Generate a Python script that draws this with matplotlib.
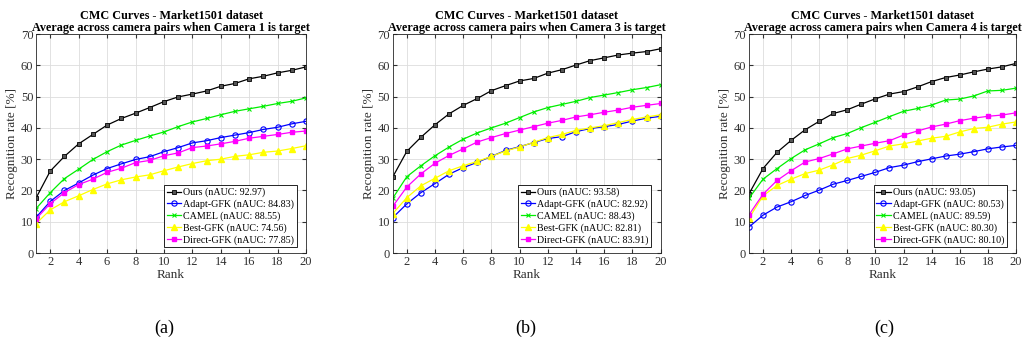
import numpy as np
import matplotlib
matplotlib.use("Agg")
import matplotlib.pyplot as plt

plt.rcParams['font.family'] = ['Liberation Serif', 'DejaVu Serif']

ranks = np.arange(1, 21)

# camera 1 as target
ours_c1 = [17.6, 26.2, 30.9, 34.9, 37.9, 40.9, 43.0, 44.7, 46.5, 48.4,
           49.9, 50.8, 51.8, 53.3, 54.2, 55.7, 56.5, 57.6, 58.4, 59.5]
adapt_c1 = [11.4, 16.5, 20.0, 22.4, 24.9, 27.0, 28.5, 29.9, 30.8, 32.4,
            33.7, 35.2, 35.9, 36.9, 37.7, 38.5, 39.5, 40.2, 41.3, 42.1]
camel_c1 = [14.2, 19.3, 23.8, 26.8, 29.9, 32.4, 34.5, 36.0, 37.4, 38.7,
            40.4, 41.9, 43.0, 44.2, 45.3, 46.1, 46.9, 47.8, 48.5, 49.6]
best_c1 = [9.4, 13.8, 16.4, 18.3, 20.3, 22.1, 23.4, 24.3, 25.0, 26.3,
           27.5, 28.6, 29.5, 30.0, 30.9, 31.4, 32.2, 32.6, 33.4, 34.3]
direct_c1 = [10.9, 15.8, 19.3, 21.9, 23.6, 25.8, 27.1, 28.9, 29.6, 31.1,
             32.0, 33.7, 34.2, 34.9, 35.7, 36.7, 37.3, 37.9, 38.6, 39.0]
nauc_c1 = [92.97, 84.83, 88.55, 74.56, 77.85]

# camera 3 as target
ours_c3 = [24.3, 32.5, 37.0, 41.0, 44.5, 47.2, 49.4, 51.9, 53.5, 55.0,
           55.8, 57.5, 58.6, 60.1, 61.5, 62.4, 63.3, 63.9, 64.4, 65.3]
adapt_c3 = [11.3, 15.7, 19.3, 22.2, 25.2, 27.3, 29.0, 30.9, 32.8, 34.0,
            35.3, 36.6, 37.2, 38.8, 39.8, 40.4, 41.1, 42.2, 43.1, 43.7]
camel_c3 = [17.5, 24.4, 27.9, 31.1, 33.9, 36.4, 38.4, 40.0, 41.5, 43.3,
            45.1, 46.5, 47.5, 48.5, 49.7, 50.5, 51.3, 52.2, 52.9, 53.8]
best_c3 = [12.6, 17.7, 21.5, 23.9, 26.3, 27.9, 29.3, 30.9, 32.6, 33.9,
           35.4, 36.9, 37.9, 39.2, 40.0, 40.7, 41.7, 42.7, 43.5, 44.2]
direct_c3 = [14.9, 21.1, 25.3, 28.7, 31.2, 33.3, 35.5, 36.9, 38.2, 39.3,
             40.4, 41.5, 42.4, 43.5, 44.2, 45.0, 45.7, 46.6, 47.2, 47.8]
nauc_c3 = [93.58, 82.92, 88.43, 82.81, 83.91]

# camera 4 as target
ours_c4 = [18.9, 27.0, 32.2, 36.0, 39.4, 42.1, 44.6, 45.8, 47.6, 49.3,
           50.8, 51.6, 53.1, 54.8, 56.1, 56.9, 57.9, 58.8, 59.5, 60.6]
adapt_c4 = [8.3, 12.1, 14.7, 16.4, 18.4, 20.1, 22.0, 23.2, 24.5, 25.8,
            27.3, 28.1, 29.2, 30.1, 31.0, 31.6, 32.4, 33.3, 33.9, 34.4]
camel_c4 = [17.5, 23.6, 27.0, 30.2, 33.0, 34.9, 36.9, 38.2, 40.1, 41.8,
            43.6, 45.3, 46.2, 47.3, 48.9, 49.2, 50.2, 51.8, 52.0, 52.7]
best_c4 = [11.1, 18.3, 21.6, 23.6, 25.4, 26.5, 28.2, 30.2, 31.3, 32.7,
           34.2, 34.9, 35.8, 36.7, 37.3, 38.7, 39.8, 40.2, 41.2, 41.9]
direct_c4 = [12.2, 18.8, 23.2, 26.3, 29.1, 30.2, 31.7, 33.3, 34.2, 35.1,
             35.9, 37.7, 39.0, 40.3, 41.2, 42.3, 43.1, 43.7, 44.1, 44.8]
nauc_c4 = [93.05, 80.53, 89.59, 80.30, 80.10]

methods = ['Ours', 'Adapt-GFK', 'CAMEL', 'Best-GFK', 'Direct-GFK']
panels = [
    ('1', [ours_c1, adapt_c1, camel_c1, best_c1, direct_c1], nauc_c1, '(a)'),
    ('3', [ours_c3, adapt_c3, camel_c3, best_c3, direct_c3], nauc_c3, '(b)'),
    ('4', [ours_c4, adapt_c4, camel_c4, best_c4, direct_c4], nauc_c4, '(c)'),
]

styles = [
    dict(color='black', marker='s', ms=3, mfc='#555555', mec='black', mew=0.6),
    dict(color='blue', marker='o', ms=3.8, mfc='none', mec='blue', mew=0.8),
    dict(color='#00ee00', marker='x', ms=2.8, mew=0.8),
    dict(color='yellow', marker='^', ms=4, mfc='yellow', mec='yellow'),
    dict(color='magenta', marker='s', ms=2.4, mfc='magenta', mec='magenta'),
]

fig = plt.figure(figsize=(10.24, 3.49), dpi=100)
lefts = [0.0352, 0.3835, 0.7314]
widths = [0.2637, 0.2617, 0.2607]
caption_x = [0.160, 0.513, 0.864]

for (cam, series, nauc, cap), left, w, cx in zip(panels, lefts, widths, caption_x):
    ax = fig.add_axes([left, 0.275, w, 0.6275])
    for name, vals, auc, st in zip(methods, series, nauc, styles):
        ax.plot(ranks, vals, lw=0.9, label='%s (nAUC: %.2f)' % (name, auc), **st)
    ax.set_xlim(1, 20)
    ax.set_ylim(0, 70)
    ax.set_xticks(np.arange(2, 21, 2))
    ax.set_yticks(np.arange(0, 71, 10))
    ax.grid(True, color='#dddddd', lw=0.6)
    ax.set_axisbelow(True)
    ax.tick_params(direction='in', top=True, right=True, length=3,
                   labelsize=9, colors='#303030', pad=2)
    for sp in ax.spines.values():
        sp.set_color('#262626')
        sp.set_linewidth(0.6)
    ax.set_xlabel('Rank', fontsize=9.5, color='#303030', labelpad=1)
    ax.set_ylabel('Recognition rate [%]', fontsize=9.5, color='#303030', labelpad=2)
    ax.set_title('CMC Curves - Market1501 dataset\n'
                 'Average across camera pairs when Camera %s is target' % cam,
                 fontsize=8.7, fontweight='bold', pad=2, linespacing=1.0)
    leg = ax.legend(loc='lower right', bbox_to_anchor=(0.965, 0.027),
                    fontsize=7.2, fancybox=False, framealpha=1,
                    edgecolor='black', borderpad=0.25, labelspacing=0.22,
                    handlelength=1.45, handletextpad=0.2, borderaxespad=0)
    leg.get_frame().set_linewidth(0.6)
    fig.text(cx, 0.06, cap, fontsize=13, ha='center', va='center')

fig.savefig('out.png', dpi=100)
